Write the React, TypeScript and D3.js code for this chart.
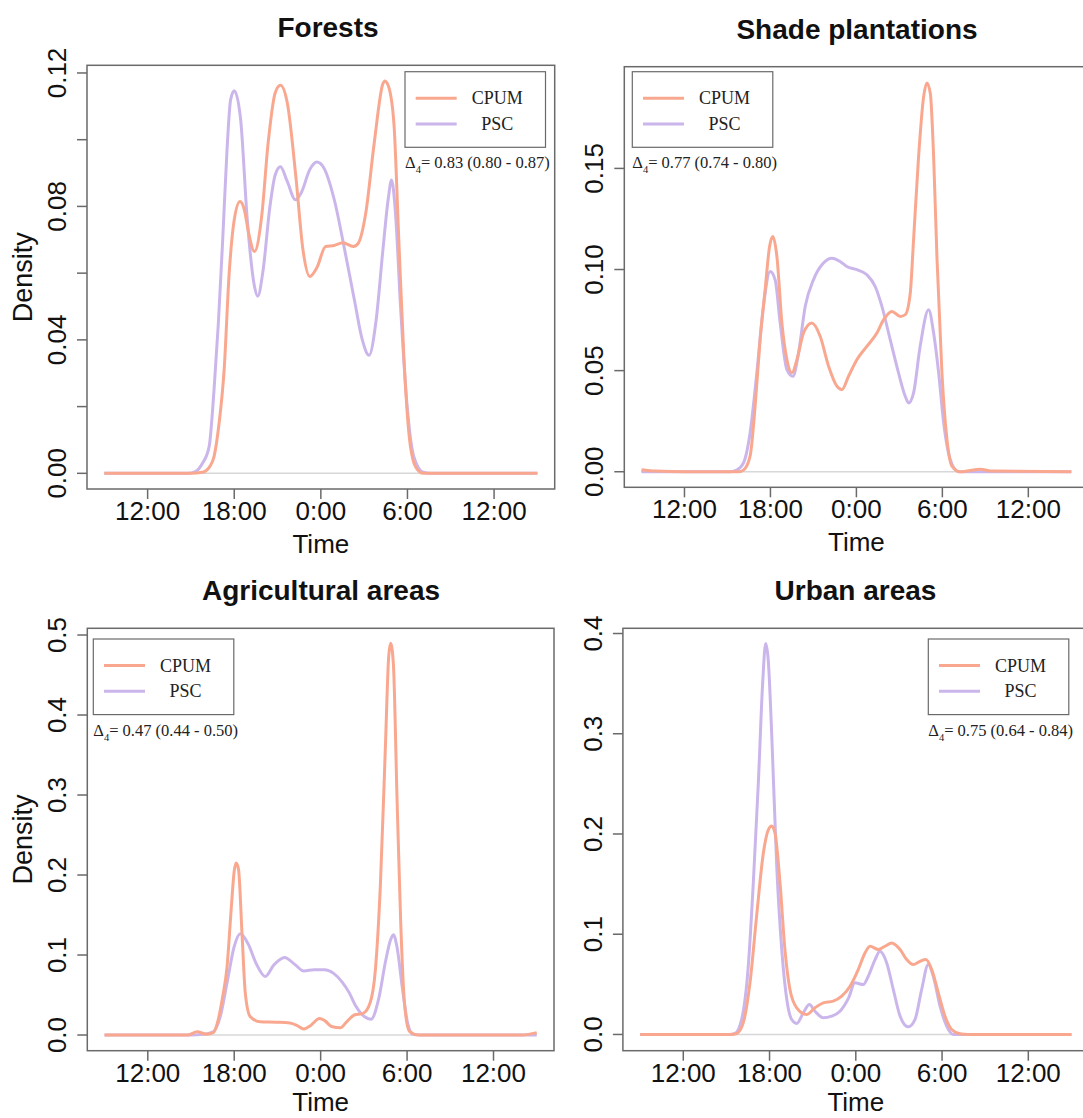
import React from 'react';
import * as d3 from 'd3';

type Pt = [number, number];

// time in hours: 12 = 12:00, 24 = 0:00, 36 = 12:00 next day
const timeTicks = [12, 18, 24, 30, 36];
const timeLabels = ['12:00', '18:00', '0:00', '6:00', '12:00'];
const seriesNames = ['CPUM', 'PSC'];
const seriesColors = ['#F9A88F', '#CBB6EC'];
const titles = ['Forests', 'Shade plantations', 'Agricultural areas', 'Urban areas'];
const overlapTexts = ['0.83 (0.80 - 0.87)', '0.77 (0.74 - 0.80)', '0.47 (0.44 - 0.50)', '0.75 (0.64 - 0.84)'];

const forestsCPUM: Pt[] = [
  [9, 0], [15, 0], [15.8, 0.0003], [16.3, 0.002], [16.6, 0.005], [16.95, 0.015], [17.3, 0.031],
  [17.65, 0.06], [18.0, 0.076], [18.4, 0.0815], [18.7, 0.079], [19.0, 0.072], [19.4, 0.0665],
  [19.9, 0.077], [20.35, 0.0991], [20.84, 0.1141], [21.2, 0.1163], [21.68, 0.1109], [22.28, 0.0884],
  [22.76, 0.067], [23.24, 0.059], [23.72, 0.0616], [24.33, 0.068], [24.93, 0.0683], [25.53, 0.0691],
  [26.25, 0.068], [26.61, 0.0691], [27.1, 0.0777], [27.7, 0.0991], [28.3, 0.1168], [28.42, 0.1176],
  [28.66, 0.1163], [29.06, 0.105], [29.4, 0.07], [29.75, 0.035], [30.1, 0.012], [30.56, 0.002],
  [31.1, 0], [39, 0],
];
const forestsPSC: Pt[] = [
  [9, 0], [14.8, 0], [15.3, 0.0005], [15.8, 0.003], [16.26, 0.008], [16.6, 0.025], [16.9, 0.045],
  [17.2, 0.07], [17.5, 0.097], [17.75, 0.112], [18.0, 0.1147], [18.43, 0.1066], [18.91, 0.0756],
  [19.39, 0.0563], [19.63, 0.0531], [19.99, 0.0606], [20.47, 0.0799], [20.84, 0.0895], [21.2, 0.0919],
  [21.68, 0.0874], [22.24, 0.082], [22.64, 0.0841], [23.24, 0.0911], [23.72, 0.0933], [24.2, 0.0916],
  [24.93, 0.082], [25.65, 0.067], [26.37, 0.0509], [26.86, 0.0402], [27.34, 0.0354], [27.82, 0.0456],
  [28.3, 0.067], [28.66, 0.082], [28.9, 0.0879], [29.17, 0.078], [29.52, 0.05], [29.98, 0.02],
  [30.44, 0.005], [31.1, 0.0003], [31.6, 0], [39, 0],
];

const shadeCPUM: Pt[] = [
  [9, 0.001], [10, 0.0003], [12, 0], [15.8, 0], [16.12, 0.0008], [16.58, 0.0077], [16.93, 0.0324],
  [17.28, 0.0653], [17.63, 0.09], [17.94, 0.1114], [18.17, 0.1163], [18.45, 0.1065], [18.8, 0.0735],
  [19.15, 0.0554], [19.5, 0.0489], [19.85, 0.0554], [20.31, 0.0686], [20.89, 0.0735], [21.47, 0.067],
  [22.06, 0.0522], [22.64, 0.0423], [22.99, 0.0406], [23.45, 0.0472], [24.03, 0.0554], [24.73, 0.062],
  [25.43, 0.0686], [25.9, 0.0752], [26.48, 0.0793], [27.06, 0.0768], [27.41, 0.0777], [27.76, 0.0884],
  [27.99, 0.1147], [28.34, 0.1558], [28.69, 0.1854], [28.92, 0.1923], [29.16, 0.1871], [29.39, 0.1558],
  [29.62, 0.1064], [29.97, 0.0489], [30.32, 0.016], [30.67, 0.0028], [31.25, 0], [32.65, 0.0012],
  [33.5, 0.0003], [39, 0],
];
const shadePSC: Pt[] = [
  [9, 0], [15.2, 0], [15.65, 0.0008], [16.12, 0.0044], [16.58, 0.0192], [17.05, 0.0489], [17.51, 0.0818],
  [17.98, 0.099], [18.33, 0.0949], [18.68, 0.0735], [19.15, 0.0505], [19.57, 0.0472], [19.96, 0.0587],
  [20.43, 0.0818], [21.0, 0.0949], [21.7, 0.1032], [22.28, 0.1056], [22.86, 0.104], [23.33, 0.1015],
  [24.03, 0.0999], [24.73, 0.0974], [25.31, 0.0916], [25.78, 0.0818], [26.36, 0.0653], [26.94, 0.0489],
  [27.41, 0.0373], [27.64, 0.034], [27.99, 0.039], [28.45, 0.062], [29.04, 0.0801], [29.39, 0.0686],
  [29.74, 0.0489], [30.09, 0.0242], [30.55, 0.0061], [31.13, 0], [39, 0],
];

const agriCPUM: Pt[] = [
  [9, 0], [14.8, 0], [15.42, 0.004], [16.07, 0.001], [16.54, 0.003], [16.9, 0.02], [17.2, 0.048],
  [17.5, 0.085], [17.8, 0.16], [18.0, 0.205], [18.14, 0.215], [18.3, 0.207], [18.54, 0.127],
  [18.77, 0.052], [19.11, 0.023], [19.8, 0.0166], [20.89, 0.016], [21.86, 0.015], [22.35, 0.012],
  [22.83, 0.0075], [23.31, 0.012], [23.92, 0.0206], [24.28, 0.018], [24.76, 0.0106], [25.36, 0.009],
  [25.85, 0.0175], [26.33, 0.025], [26.94, 0.027], [27.43, 0.04], [27.79, 0.0795], [28.15, 0.189],
  [28.5, 0.363], [28.72, 0.472], [28.86, 0.4896], [29.05, 0.4635], [29.3, 0.2976], [29.55, 0.145],
  [29.8, 0.0446], [30.15, 0.005], [30.8, 0], [38, 0], [39, 0.003],
];
const agriPSC: Pt[] = [
  [9, 0], [15.0, 0], [15.8, 0.0008], [16.54, 0.004], [17.03, 0.023], [17.51, 0.066], [17.99, 0.11],
  [18.42, 0.1265], [18.96, 0.114], [19.56, 0.088], [20.15, 0.073], [20.77, 0.088], [21.5, 0.097],
  [22.22, 0.088], [22.83, 0.08], [23.55, 0.0817], [24.27, 0.0817], [24.88, 0.0774], [25.48, 0.0664],
  [25.97, 0.0533], [26.45, 0.0359], [27.05, 0.0228], [27.5, 0.0198], [28.02, 0.0446], [28.51, 0.0926],
  [28.85, 0.1187], [29.05, 0.1254], [29.3, 0.11], [29.68, 0.0577], [30.05, 0.014], [30.44, 0.0005],
  [31, 0], [39, 0],
];

const urbanCPUM: Pt[] = [
  [9, 0], [15.3, 0], [15.71, 0.001], [16.17, 0.0116], [16.64, 0.0515], [17.1, 0.118], [17.57, 0.181],
  [17.91, 0.204], [18.15, 0.208], [18.38, 0.2009], [18.73, 0.151], [19.07, 0.0847], [19.42, 0.0448],
  [19.89, 0.0266], [20.58, 0.0199], [21.16, 0.0266], [21.74, 0.0315], [22.43, 0.0332], [23.02, 0.0382],
  [23.6, 0.0481], [24.17, 0.0647], [24.64, 0.0813], [24.99, 0.088], [25.57, 0.0847], [26.03, 0.088],
  [26.5, 0.0913], [27.08, 0.0847], [27.54, 0.0747], [28.0, 0.0697], [28.47, 0.073], [28.88, 0.0747],
  [29.28, 0.0647], [29.74, 0.0415], [30.2, 0.0183], [30.67, 0.005], [31.25, 0.0007], [31.8, 0], [39, 0],
];
const urbanPSC: Pt[] = [
  [9, 0], [15.2, 0], [15.6, 0.001], [16.06, 0.015], [16.52, 0.068], [16.87, 0.151], [17.22, 0.2507],
  [17.52, 0.35], [17.73, 0.39], [17.91, 0.3735], [18.15, 0.3], [18.5, 0.1677], [18.85, 0.0847],
  [19.2, 0.0349], [19.54, 0.0149], [19.89, 0.011], [20.35, 0.0216], [20.77, 0.0299], [21.16, 0.0232],
  [21.74, 0.0166], [22.32, 0.0183], [22.9, 0.0232], [23.5, 0.0365], [23.94, 0.0515], [24.52, 0.0498],
  [24.87, 0.0581], [25.34, 0.0747], [25.68, 0.083], [26.15, 0.0714], [26.61, 0.0448], [27.08, 0.0183],
  [27.65, 0.0076], [28.12, 0.015], [28.58, 0.0448], [29.04, 0.0697], [29.39, 0.0581], [29.86, 0.0282],
  [30.32, 0.0083], [30.78, 0], [39, 0],
];

const forestsTicks = [0, 0.02, 0.04, 0.06, 0.08, 0.1, 0.12];
const forestsLabels = [0, 0.04, 0.08, 0.12];
const shadeTicks = [0, 0.05, 0.1, 0.15];
const agriTicks = [0, 0.1, 0.2, 0.3, 0.4, 0.5];
const urbanTicks = [0, 0.1, 0.2, 0.3, 0.4];

const FONT = '"Liberation Sans", Arial, sans-serif';
const SERIF = '"Liberation Serif", "Times New Roman", serif';
const AXIS = '#6a6a6a';

type PanelProps = {
  idx: number;
  cpum: Pt[];
  psc: Pt[];
  box: { x0: number; x1: number; y0: number; y1: number };
  yDomain: [number, number];
  yTicks: number[];
  yLabels: number[];
  fmt: string;
  legend: { x: number; y: number };
  titleX: number;
  density: boolean;
  timeDy: number;
};

function Panel({ idx, cpum, psc, box, yDomain, yTicks, yLabels, fmt, legend, titleX, density, timeDy }: PanelProps) {
  const x = d3.scaleLinear().domain([7.8, 40.2]).range([box.x0, box.x1]);
  const y = d3.scaleLinear().domain(yDomain).range([box.y1, box.y0]);
  const line = d3.line<Pt>().x((d) => x(d[0])).y((d) => y(d[1])).curve(d3.curveMonotoneX);
  const f = d3.format(fmt);
  const cy = (box.y0 + box.y1) / 2;
  const cx = (box.x0 + box.x1) / 2;
  const lw = 140.5;
  const lh = 75.6;

  return (
    <g>
      <text x={titleX} y={box.y0 - 28} textAnchor="middle" fontFamily={FONT} fontWeight="bold" fontSize={28} fill="#111">
        {titles[idx]}
      </text>

      {/* baseline at zero */}
      <line x1={x(9)} x2={x(39)} y1={y(0)} y2={y(0)} stroke="#d8d8d8" strokeWidth={1.5} />

      <path d={line(psc) || ''} fill="none" stroke={seriesColors[1]} strokeWidth={3} />
      <path d={line(cpum) || ''} fill="none" stroke={seriesColors[0]} strokeWidth={3} />

      <rect x={box.x0} y={box.y0} width={box.x1 - box.x0} height={box.y1 - box.y0} fill="none" stroke={AXIS} strokeWidth={1.5} />

      {/* y axis */}
      {yTicks.map((t) => (
        <line key={'yt' + t} x1={box.x0 - 10} x2={box.x0} y1={y(t)} y2={y(t)} stroke={AXIS} strokeWidth={1.5} />
      ))}
      {yLabels.map((t) => (
        <text key={'yl' + t} transform={`translate(${box.x0 - 21},${y(t)}) rotate(-90)`} textAnchor="middle"
          fontFamily={FONT} fontSize={26} fill="#111">
          {f(t)}
        </text>
      ))}
      {density && (
        <text transform={`translate(${box.x0 - 55},${cy}) rotate(-90)`} textAnchor="middle" fontFamily={FONT} fontSize={27} fill="#111">
          Density
        </text>
      )}

      {/* x axis */}
      {timeTicks.map((t, i) => (
        <g key={'xt' + i}>
          <line x1={x(t)} x2={x(t)} y1={box.y1} y2={box.y1 + 10} stroke={AXIS} strokeWidth={1.5} />
          <text x={x(t)} y={box.y1 + 31} textAnchor="middle" fontFamily={FONT} fontSize={26} fill="#111">
            {timeLabels[i]}
          </text>
        </g>
      ))}
      <text x={cx} y={box.y1 + timeDy} textAnchor="middle" fontFamily={FONT} fontSize={26} fill="#111">
        Time
      </text>

      {/* legend */}
      <rect x={legend.x} y={legend.y} width={lw} height={lh} fill="white" stroke={AXIS} strokeWidth={1.2} />
      {seriesNames.map((name, i) => (
        <g key={name}>
          <line x1={legend.x + 10.7} x2={legend.x + 51.7} y1={legend.y + 26.6 + i * 25.7} y2={legend.y + 26.6 + i * 25.7}
            stroke={seriesColors[i]} strokeWidth={3} />
          <text x={legend.x + 92.3} y={legend.y + 32.5 + i * 25.7} textAnchor="middle" fontFamily={SERIF} fontSize={18} fill="#222">
            {name}
          </text>
        </g>
      ))}
      <text x={legend.x} y={legend.y + 96.5} fontFamily={SERIF} fontSize={16.5} fill="#222">
        Δ<tspan fontSize={10.5} dy={5}>4</tspan><tspan dy={-5}>= {overlapTexts[idx]}</tspan>
      </text>
    </g>
  );
}

export default function App() {
  return (
    <svg width={1083} height={1118} style={{ position: 'absolute', left: 0, top: 0, background: 'white', display: 'block' }}>
      <rect width={1083} height={1118} fill="white" />
      <Panel idx={0} cpum={forestsCPUM} psc={forestsPSC}
        box={{ x0: 87, x1: 554.7, y0: 65.3, y1: 489 }} yDomain={[-0.0047, 0.1223]}
        yTicks={forestsTicks} yLabels={forestsLabels} fmt=".2f" legend={{ x: 405, y: 71.7 }} titleX={328} density timeDy={64} />
      <Panel idx={1} cpum={shadeCPUM} psc={shadePSC}
        box={{ x0: 624.3, x1: 1088.5, y0: 66.7, y1: 487.3 }} yDomain={[-0.0077, 0.2003]}
        yTicks={shadeTicks} yLabels={shadeTicks} fmt=".2f" legend={{ x: 632.3, y: 71.7 }} titleX={857} density={false} timeDy={64} />
      <Panel idx={2} cpum={agriCPUM} psc={agriPSC}
        box={{ x0: 87.3, x1: 554, y0: 628.3, y1: 1050.7 }} yDomain={[-0.0196, 0.5084]}
        yTicks={agriTicks} yLabels={agriTicks} fmt=".1f" legend={{ x: 93.3, y: 639 }} titleX={321} density timeDy={60} />
      <Panel idx={3} cpum={urbanCPUM} psc={urbanPSC}
        box={{ x0: 622.9, x1: 1088.7, y0: 628.3, y1: 1050.7 }} yDomain={[-0.0162, 0.4052]}
        yTicks={urbanTicks} yLabels={urbanTicks} fmt=".1f" legend={{ x: 928.3, y: 639 }} titleX={855.5} density={false} timeDy={60} />
    </svg>
  );
}
